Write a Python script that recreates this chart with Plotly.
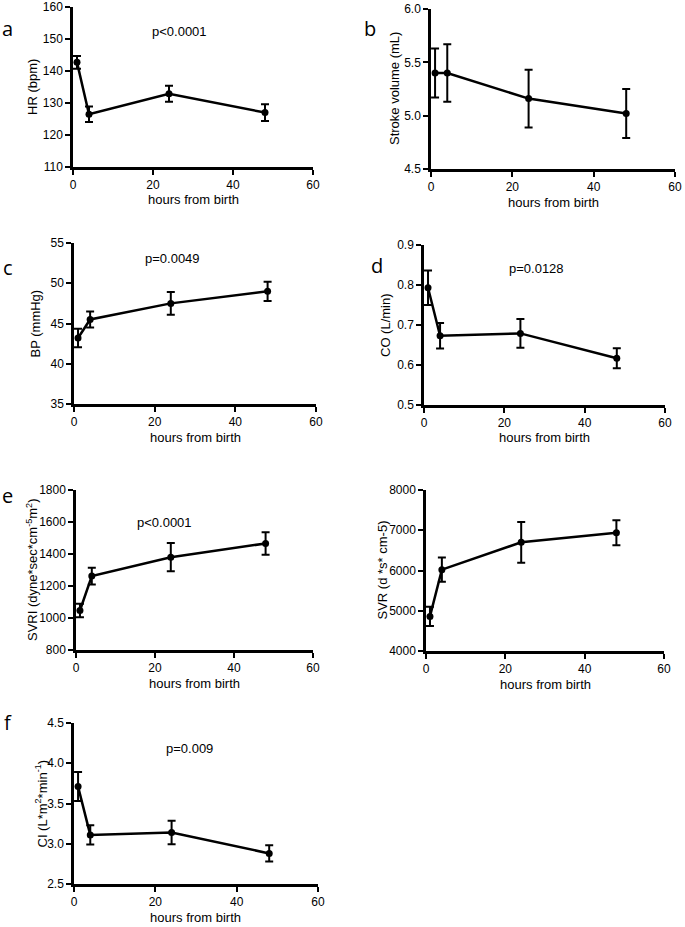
import plotly.graph_objects as go

W, H = 685, 927

hours = [1, 4, 24, 48]

hr = [142.7, 126.5, 132.9, 127.0]
hr_err = [2.0, 2.4, 2.5, 2.6]
sv = [5.40, 5.40, 5.16, 5.02]
sv_err = [0.23, 0.27, 0.27, 0.23]
bp = [43.2, 45.5, 47.5, 49.0]
bp_err = [1.15, 1.0, 1.4, 1.2]
co = [0.793, 0.673, 0.679, 0.617]
co_err = [0.043, 0.032, 0.036, 0.025]
svri = [1047, 1262, 1380, 1466]
svri_err = [42, 52, 88, 70]
svr = [4860, 6020, 6700, 6940]
svr_err = [240, 300, 505, 310]
ci = [3.71, 3.11, 3.14, 2.88]
ci_err = [0.18, 0.12, 0.145, 0.10]

x_ticks = [0, 20, 40, 60]
x_title = "hours from birth"

# panel: (letter, values, errors, yrange, dtick, tickformat, ytitle, pvalue,
#         px box (x0, x1, y0, y1), ytitle offset, letter pos, pvalue pos)
panels = [
    ("a", hr, hr_err, [110, 160], 10, "d", "HR (bpm)", "p<0.0001",
     (73, 313, 7, 167), 41, (7, 28), (179, 32)),
    ("b", sv, sv_err, [4.5, 6.0], 0.5, ".1f", "Stroke volume (mL)", None,
     (431, 675, 9, 169), 37, (370, 28), None),
    ("c", bp, bp_err, [35, 55], 5, "d", "BP (mmHg)", "p=0.0049",
     (74, 316, 243, 404), 39, (8, 267), (172, 258)),
    ("d", co, co_err, [0.5, 0.9], 0.1, ".1f", "CO (L/min)", "p=0.0128",
     (424, 665, 245, 405), 39, (377, 265), (536, 268)),
    ("e", svri, svri_err, [800, 1800], 200, "d",
     "SVRI (dyne*sec*cm<sup>-5</sup>m<sup>2</sup>)", "p<0.0001",
     (76, 313, 490, 650), 44, (7, 495), (164, 522)),
    ("", svr, svr_err, [4000, 8000], 1000, "d", "SVR (d *s* cm-5)", None,
     (426, 664, 490, 651), 44, None, None),
    ("f", ci, ci_err, [2.5, 4.5], 0.5, ".1f",
     "CI (L*m<sup>2</sup>*min<sup>-1</sup>)", "p=0.009",
     (74, 318, 723, 884), 33, (8, 722), (189, 748)),
]

FONT = "Liberation Sans"
fig = go.Figure()
annotations = []

for i, (letter, vals, errs, yr, dt, tf, ytitle, pval, box, yoff, lpos, ppos) in enumerate(panels):
    n = "" if i == 0 else str(i + 1)
    x0, x1, y0, y1 = box
    fig.add_trace(go.Scatter(
        x=hours, y=vals, mode="lines+markers",
        line=dict(color="black", width=2.5),
        marker=dict(color="black", size=7),
        error_y=dict(type="data", array=errs, visible=True,
                     color="black", thickness=2, width=4),
        xaxis="x" + n, yaxis="y" + n, showlegend=False, cliponaxis=False,
    ))
    common = dict(showline=True, linecolor="black", linewidth=2.5,
                  ticks="outside", ticklen=5, tickwidth=2, tickcolor="black",
                  showgrid=False, zeroline=False, automargin=False,
                  tickfont=dict(family=FONT, size=12, color="black"))
    fig.update_layout(**{
        "xaxis" + n: dict(domain=[x0 / W, x1 / W], anchor="y" + n,
                          range=[0, 60], tickvals=x_ticks, **common),
        "yaxis" + n: dict(domain=[1 - y1 / H, 1 - y0 / H], anchor="x" + n,
                          range=yr, dtick=dt, tick0=yr[0], tickformat=tf,
                          **common),
    })
    annotations.append(dict(text=x_title, x=(x0 + x1) / 2 / W, y=1 - (y1 + 33) / H,
                            xref="paper", yref="paper", showarrow=False,
                            xanchor="center", yanchor="middle",
                            font=dict(family=FONT, size=13, color="black")))
    annotations.append(dict(text=ytitle, x=(x0 - yoff) / W, y=1 - (y0 + y1) / 2 / H,
                            xref="paper", yref="paper", showarrow=False,
                            textangle=-90, xanchor="center", yanchor="middle",
                            font=dict(family=FONT, size=13, color="black")))
    if letter and lpos:
        annotations.append(dict(text=letter, x=lpos[0] / W, y=1 - lpos[1] / H,
                                xref="paper", yref="paper", showarrow=False,
                                xanchor="center", yanchor="middle",
                                font=dict(family="Open Sans", size=20,
                                          color="black")))
    if pval and ppos:
        annotations.append(dict(text=pval, x=ppos[0] / W, y=1 - ppos[1] / H,
                                xref="paper", yref="paper", showarrow=False,
                                xanchor="center", yanchor="middle",
                                font=dict(family=FONT, size=13, color="black")))

fig.update_layout(width=W, height=H, autosize=False,
                  margin=dict(l=0, r=0, t=0, b=0, pad=0),
                  paper_bgcolor="white", plot_bgcolor="white",
                  annotations=annotations)

fig.write_html("out.html",
               config={"displayModeBar": False},
               post_script="document.body.style.margin='0px';"
                           "document.body.style.overflow='hidden';")
